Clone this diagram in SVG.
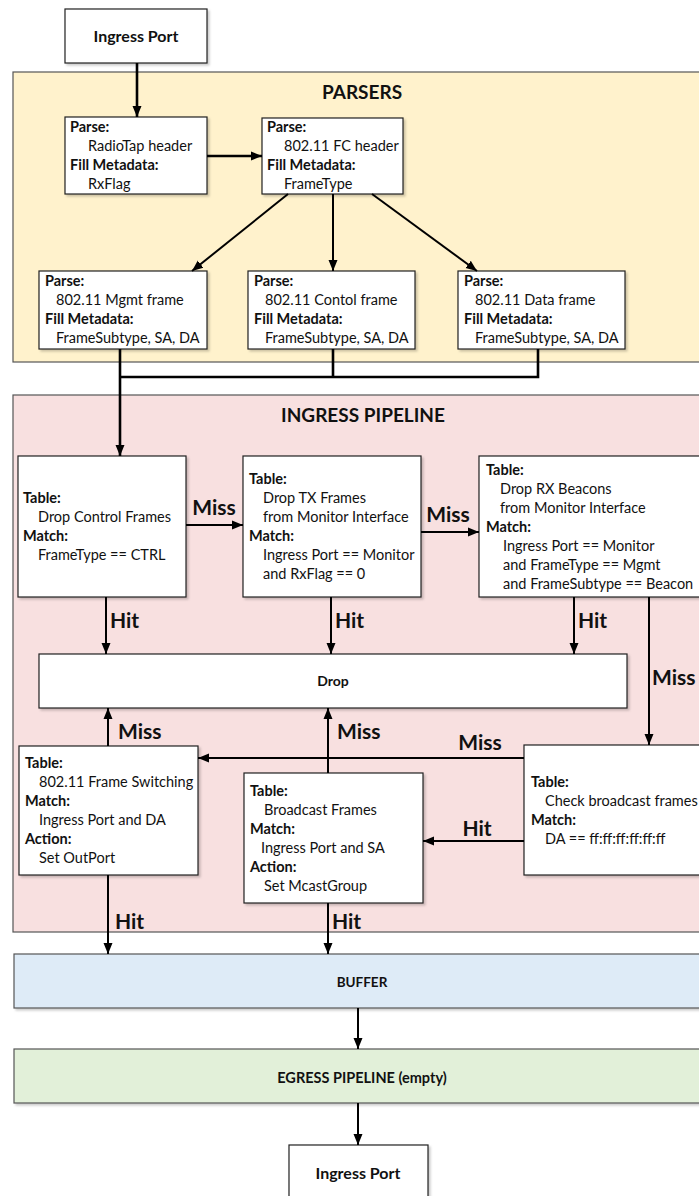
<svg xmlns="http://www.w3.org/2000/svg" width="699" height="1196" viewBox="0 0 699 1196">
<style>
text{font-family:Lato,"Open Sans","Liberation Sans",sans-serif;fill:#111}
.b{font-weight:bold}
.t{font-size:14.5px}
.lbl{font-size:21px;font-weight:bold}
.title{font-size:19px;font-weight:bold}
.box{fill:#fff;stroke:#222;stroke-width:1.2}
.cont{stroke:#555;stroke-width:1.2}
.c{fill:none;stroke:#000;stroke-width:2}
.ct{fill:none;stroke:#000;stroke-width:2.6}
</style>
<defs>
<marker id="ah" markerUnits="userSpaceOnUse" markerWidth="12" markerHeight="12" viewBox="0 0 12 12" refX="11" refY="6" orient="auto">
<path d="M0,1.5 L11,6 L0,10.5 Z" fill="#000"/>
</marker>
<filter id="sh" x="-5%" y="-5%" width="115%" height="115%">
<feDropShadow dx="2" dy="2" stdDeviation="1.2" flood-color="#000" flood-opacity="0.2"/>
</filter>
</defs>
<rect width="699" height="1196" fill="#fff"/>

<g id="parsers">
<rect class="cont" x="13" y="72" width="700" height="290" fill="#FFF2CC"/>
<text class="title" x="362" y="99" text-anchor="middle">PARSERS</text>
</g>
<g id="ingress-pipeline">
<rect class="cont" x="13" y="395" width="700" height="537" fill="#F8E0E0"/>
<text class="title" x="363" y="422" text-anchor="middle">INGRESS PIPELINE</text>
</g>
<g id="buffer">
<rect class="cont" x="14" y="954" width="700" height="54" fill="#DEEBF7" filter="url(#sh)"/>
<text class="b" x="362" y="987" text-anchor="middle" font-size="13.5">BUFFER</text>
</g>
<g id="egress">
<rect class="cont" x="14" y="1049" width="700" height="54" fill="#E2F0D9" filter="url(#sh)"/>
<text class="b" x="362" y="1083" text-anchor="middle" font-size="14.5">EGRESS PIPELINE (empty)</text>
</g>

<g id="ingress-port-top">
<rect class="box" x="65" y="9" width="142" height="54" filter="url(#sh)"/>
<text class="b" x="136" y="42" text-anchor="middle" font-size="16">Ingress Port</text>
</g>

<g id="parse-radiotap">
<rect class="box" x="65" y="117" width="142" height="77" filter="url(#sh)"/>
<text class="t"><tspan class="b" x="70" y="131.5">Parse:</tspan><tspan x="88" y="150.5">RadioTap header</tspan><tspan class="b" x="70" y="169.5">Fill Metadata:</tspan><tspan x="88" y="188.5">RxFlag</tspan></text>
</g>
<g id="parse-fc">
<rect class="box" x="262" y="118" width="141" height="76" filter="url(#sh)"/>
<text class="t"><tspan class="b" x="267" y="131.5">Parse:</tspan><tspan x="284" y="150.5">802.11 FC header</tspan><tspan class="b" x="267" y="169.5">Fill Metadata:</tspan><tspan x="284" y="188.5">FrameType</tspan></text>
</g>
<g id="parse-mgmt">
<rect class="box" x="39" y="271" width="168" height="78" filter="url(#sh)"/>
<text class="t"><tspan class="b" x="45" y="286">Parse:</tspan><tspan x="56" y="305">802.11 Mgmt frame</tspan><tspan class="b" x="45" y="324">Fill Metadata:</tspan><tspan x="56" y="343">FrameSubtype, SA, DA</tspan></text>
</g>
<g id="parse-control">
<rect class="box" x="248" y="271" width="167" height="78" filter="url(#sh)"/>
<text class="t"><tspan class="b" x="254" y="286">Parse:</tspan><tspan x="265" y="305">802.11 Contol frame</tspan><tspan class="b" x="254" y="324">Fill Metadata:</tspan><tspan x="265" y="343">FrameSubtype, SA, DA</tspan></text>
</g>
<g id="parse-data">
<rect class="box" x="458" y="271" width="167" height="78" filter="url(#sh)"/>
<text class="t"><tspan class="b" x="464" y="286">Parse:</tspan><tspan x="475" y="305">802.11 Data frame</tspan><tspan class="b" x="464" y="324">Fill Metadata:</tspan><tspan x="475" y="343">FrameSubtype, SA, DA</tspan></text>
</g>

<g id="drop-control">
<rect class="box" x="18" y="456" width="168" height="141" filter="url(#sh)"/>
<text class="t"><tspan class="b" x="23" y="503">Table:</tspan><tspan x="38" y="522">Drop Control Frames</tspan><tspan class="b" x="23" y="541">Match:</tspan><tspan x="38" y="560">FrameType == CTRL</tspan></text>
</g>
<g id="drop-tx">
<rect class="box" x="243" y="456" width="178" height="141" filter="url(#sh)"/>
<text class="t"><tspan class="b" x="249" y="484">Table:</tspan><tspan x="263" y="503">Drop TX Frames</tspan><tspan x="263" y="522">from Monitor Interface</tspan><tspan class="b" x="249" y="541">Match:</tspan><tspan x="263" y="560">Ingress Port == Monitor</tspan><tspan x="263" y="579">and RxFlag == 0</tspan></text>
</g>
<g id="drop-rx-beacons">
<rect class="box" x="479" y="456" width="240" height="141" filter="url(#sh)"/>
<text class="t"><tspan class="b" x="486" y="474.5">Table:</tspan><tspan x="500" y="493.5">Drop RX Beacons</tspan><tspan x="500" y="512.5">from Monitor Interface</tspan><tspan class="b" x="486" y="531.5">Match:</tspan><tspan x="503" y="550.5">Ingress Port == Monitor</tspan><tspan x="503" y="569.5">and FrameType == Mgmt</tspan><tspan x="503" y="588.5">and FrameSubtype == Beacon</tspan></text>
</g>
<g id="drop">
<rect class="box" x="39" y="654" width="588" height="54" filter="url(#sh)"/>
<text class="b" x="333" y="686" text-anchor="middle" font-size="14">Drop</text>
</g>
<g id="frame-switching">
<rect class="box" x="19" y="746" width="179" height="129" filter="url(#sh)"/>
<text class="t"><tspan class="b" x="25" y="768">Table:</tspan><tspan x="39" y="787">802.11 Frame Switching</tspan><tspan class="b" x="25" y="806">Match:</tspan><tspan x="39" y="825">Ingress Port and DA</tspan><tspan class="b" x="25" y="844">Action:</tspan><tspan x="39" y="863">Set OutPort</tspan></text>
</g>
<g id="broadcast-frames">
<rect class="box" x="244" y="773" width="179" height="130" filter="url(#sh)"/>
<text class="t"><tspan class="b" x="250" y="795.5">Table:</tspan><tspan x="264" y="814.5">Broadcast Frames</tspan><tspan class="b" x="250" y="833.5">Match:</tspan><tspan x="261" y="852.5">Ingress Port and SA</tspan><tspan class="b" x="250" y="871.5">Action:</tspan><tspan x="264" y="890.5">Set McastGroup</tspan></text>
</g>
<g id="check-broadcast">
<rect class="box" x="524" y="745" width="200" height="130" filter="url(#sh)"/>
<text class="t"><tspan class="b" x="531" y="786.5">Table:</tspan><tspan x="545" y="805.5">Check broadcast frames</tspan><tspan class="b" x="531" y="824.5">Match:</tspan><tspan x="545" y="843.5">DA == ff:ff:ff:ff:ff:ff</tspan></text>
</g>
<g id="ingress-port-bottom">
<rect class="box" x="289" y="1145" width="139" height="60" filter="url(#sh)"/>
<text class="b" x="358" y="1179" text-anchor="middle" font-size="16">Ingress Port</text>
</g>

<g id="connectors">
<path class="ct" d="M137 63 V117" marker-end="url(#ah)"/>
<path class="ct" d="M207 156 H262" marker-end="url(#ah)"/>
<path class="c" d="M288 194 L192 271" marker-end="url(#ah)"/>
<path class="c" d="M333 194 V271" marker-end="url(#ah)"/>
<path class="c" d="M372 194 L477 271" marker-end="url(#ah)"/>
<path class="ct" d="M333 349 V377 H120 M538 349 V377 H333"/>
<path class="ct" d="M120 349 V456" marker-end="url(#ah)"/>
<path class="c" d="M186 525 H243" marker-end="url(#ah)"/>
<path class="c" d="M421 532 H479" marker-end="url(#ah)"/>
<path class="c" d="M106 597 V654" marker-end="url(#ah)"/>
<path class="c" d="M331 597 V654" marker-end="url(#ah)"/>
<path class="c" d="M574 597 V654" marker-end="url(#ah)"/>
<path class="c" d="M649 597 V745" marker-end="url(#ah)"/>
<path class="c" d="M108 746 V708" marker-end="url(#ah)"/>
<path class="c" d="M328 773 V708" marker-end="url(#ah)"/>
<path class="c" d="M524 758 H198" marker-end="url(#ah)"/>
<path class="c" d="M524 841 H423" marker-end="url(#ah)"/>
<path class="c" d="M108 875 V954" marker-end="url(#ah)"/>
<path class="c" d="M328 903 V954" marker-end="url(#ah)"/>
<path class="c" d="M358 1008 V1049" marker-end="url(#ah)"/>
<path class="c" d="M358 1103 V1145" marker-end="url(#ah)"/>
<text class="lbl" x="214" y="515" text-anchor="middle">Miss</text>
<text class="lbl" x="448" y="522" text-anchor="middle">Miss</text>
<text class="lbl" x="110" y="628">Hit</text>
<text class="lbl" x="335" y="628">Hit</text>
<text class="lbl" x="578" y="628">Hit</text>
<text class="lbl" x="652" y="685">Miss</text>
<text class="lbl" x="118" y="739">Miss</text>
<text class="lbl" x="337" y="739">Miss</text>
<text class="lbl" x="480" y="750" text-anchor="middle">Miss</text>
<text class="lbl" x="477" y="836" text-anchor="middle">Hit</text>
<text class="lbl" x="115" y="929">Hit</text>
<text class="lbl" x="332" y="929">Hit</text>
</g>
</svg>
